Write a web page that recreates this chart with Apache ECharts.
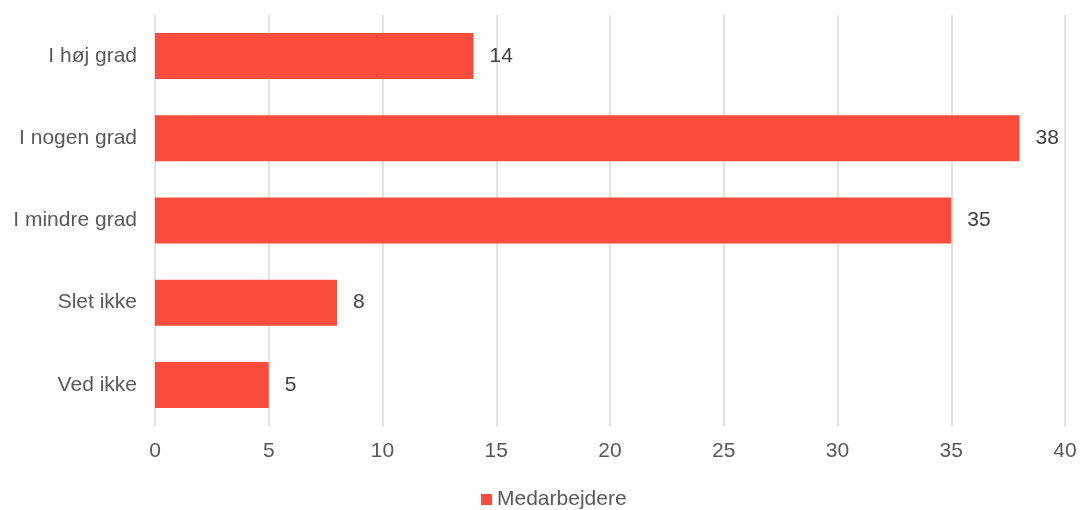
<!DOCTYPE html>
<html>
<head>
<meta charset="utf-8">
<script src="https://cdn.jsdelivr.net/npm/echarts@6/dist/echarts.min.js"></script>
<style>
  html, body { margin: 0; padding: 0; background: #fff; }
  #chart { width: 1080px; height: 510px; }
</style>
</head>
<body>
<div id="chart"></div>
<script>
// Survey answers, top to bottom as shown
const categories = ['I høj grad', 'I nogen grad', 'I mindre grad', 'Slet ikke', 'Ved ikke'];
const values = [14, 38, 35, 8, 5];
const seriesName = 'Medarbejdere';
const xTicks = { min: 0, max: 40, interval: 5 };

const chart = echarts.init(document.getElementById('chart'));
const font = '"Liberation Sans", Arial, sans-serif';

chart.setOption({
  animation: false,
  textStyle: { fontFamily: font },
  grid: { left: 155, right: 15, top: 15, bottom: 84, containLabel: false },
  legend: {
    top: 484,
    left: 476,
    itemWidth: 11,
    itemHeight: 11,
    icon: 'rect',
    textStyle: { fontSize: 21, color: '#595959', fontFamily: font },
    data: [seriesName]
  },
  xAxis: {
    type: 'value',
    min: xTicks.min,
    max: xTicks.max,
    interval: xTicks.interval,
    axisLine: { show: false },
    axisTick: { show: false },
    splitLine: { show: true, lineStyle: { color: '#d9d9d9', width: 1.5 } },
    axisLabel: { fontSize: 21, color: '#595959', margin: 15, fontFamily: font }
  },
  yAxis: {
    type: 'category',
    inverse: true,
    data: categories,
    axisLine: { show: false },
    axisTick: { show: false },
    axisLabel: { fontSize: 21, color: '#595959', margin: 18, fontFamily: font }
  },
  series: [{
    name: seriesName,
    type: 'bar',
    data: values,
    barCategoryGap: '44%',
    itemStyle: { color: '#F94C3C' },
    label: {
      show: true,
      position: 'right',
      distance: 16,
      fontSize: 21,
      color: '#404040',
      fontFamily: font
    }
  }]
});
</script>
</body>
</html>
